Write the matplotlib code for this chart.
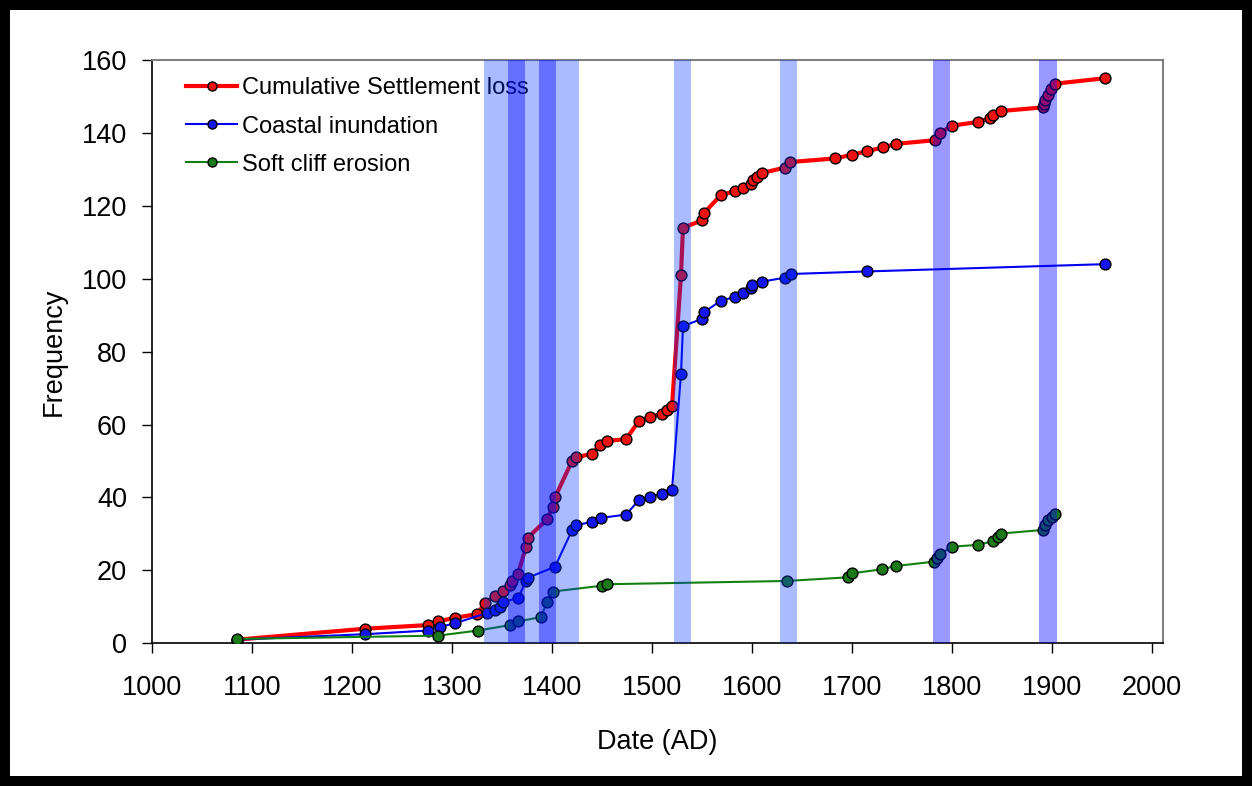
import matplotlib
matplotlib.use("Agg")
import matplotlib.pyplot as plt
from matplotlib.patches import Rectangle

plt.rcParams['font.family'] = ['Liberation Sans', 'DejaVu Sans']

# 1. Data
settle_year = [1085, 1213, 1276, 1286, 1303, 1325, 1333, 1343, 1351, 1358, 1360, 1366,
               1374, 1376, 1395, 1401, 1403, 1420, 1424, 1440, 1448, 1455, 1474, 1487,
               1498, 1510, 1515, 1520, 1529, 1531, 1550, 1552, 1569, 1583, 1591, 1599,
               1601, 1605, 1610, 1633, 1638, 1683, 1700, 1715, 1731, 1744, 1783, 1788,
               1800, 1826, 1838, 1841, 1849, 1891, 1892, 1893, 1896, 1899, 1903, 1953]
settle_freq = [1, 4, 5, 6, 7, 8, 11, 13, 14.4, 16, 17, 19,
               26.5, 29, 34, 37.5, 40, 50, 51, 52, 54.5, 55.5, 56, 61,
               62, 63, 64, 65, 101, 114, 116, 118, 123, 124, 125, 126,
               127, 128, 129, 130.5, 132, 133, 134, 135, 136, 137, 138, 140,
               142, 143, 144, 145, 146, 147, 148, 149, 150.5, 152, 153.5, 155]

coast_year = [1085, 1213, 1276, 1288, 1303, 1335, 1343, 1348, 1351, 1366, 1374, 1376,
              1403, 1420, 1424, 1440, 1449, 1474, 1487, 1498, 1510, 1520, 1529, 1531,
              1550, 1552, 1569, 1583, 1591, 1599, 1600, 1610, 1633, 1639, 1715, 1953]
coast_freq = [1, 2.5, 3.5, 4.5, 5.5, 8.3, 9.2, 10, 11.3, 12.4, 17, 18,
              21, 31, 32.4, 33.3, 34.4, 35.3, 39.3, 40.2, 41, 42, 74, 87,
              89, 90.8, 94, 95, 96.2, 97.4, 98.2, 99.2, 100.3, 101.3, 102, 104]

cliff_year = [1085, 1286, 1326, 1358, 1366, 1389, 1395, 1401, 1450, 1455, 1635, 1696,
              1700, 1730, 1744, 1782, 1785, 1788, 1800, 1826, 1841, 1846, 1849, 1891,
              1893, 1896, 1900, 1903]
cliff_freq = [1.2, 2.1, 3.5, 5, 6, 7.2, 11.3, 14.2, 15.8, 16.2, 17.1, 18.1,
              19.2, 20.3, 21.2, 22.4, 23.3, 24.5, 26.5, 27, 28, 29.1, 30.1, 31.1,
              32.4, 33.8, 34.7, 35.4]

# shaded periods (start, end)
light_periods = [(1332, 1427), (1522, 1539), (1628, 1645)]
strong_periods = [(1356, 1373), (1387, 1404), (1781, 1798), (1887, 1905)]

# 2. Figure: white with a thick black frame
fig = plt.figure(figsize=(12.52, 7.86), dpi=100, facecolor='white')
fig.patches.append(Rectangle((0, 0), 1, 1, transform=fig.transFigure, fill=False,
                             edgecolor='black', linewidth=14.4, zorder=10))
ax = fig.add_axes([152 / 1252, 1 - 643.3 / 786, 1011 / 1252, 583.3 / 786])
ax.set_facecolor('white')

ax.plot(settle_year, settle_freq, color='#ff0000', lw=3, marker='o', ms=7.8,
        mfc='#ee1111', mec='black', mew=1, label='Cumulative Settlement loss', zorder=3)
ax.plot(coast_year, coast_freq, color='#0000ee', lw=1.5, marker='o', ms=7.8,
        mfc='#1515ee', mec='black', mew=1, label='Coastal inundation', zorder=3)
ax.plot(cliff_year, cliff_freq, color='#118011', lw=1.5, marker='o', ms=7.8,
        mfc='#1a7a1a', mec='black', mew=1, label='Soft cliff erosion', zorder=3)

leg = ax.legend(loc='upper left', bbox_to_anchor=(0.034, 0.97), frameon=False,
                fontsize=17, handlelength=2.15, handletextpad=0.2,
                labelspacing=0.68, borderpad=0, borderaxespad=0)
for h in leg.legend_handles:
    h.set_markersize(6.5)

# bands drawn on top, tinting everything beneath
for s, e in light_periods:
    ax.axvspan(s, e, color=(0, 0.2, 1), alpha=0.333, lw=0, zorder=6)
for s, e in strong_periods:
    ax.axvspan(s, e, color=(0, 0, 1), alpha=0.4, lw=0, zorder=6)

# 3. Axes styling
ax.set_xlim(1000, 2011)
ax.set_ylim(0, 160)
ax.set_xticks(range(1000, 2001, 100))
ax.set_yticks(range(0, 161, 20))
ax.tick_params(axis='both', direction='out', length=7, width=1, labelsize=19.5,
               colors='black')
ax.tick_params(axis='x', pad=16)
ax.tick_params(axis='y', pad=11)
for side in ['left', 'bottom']:
    ax.spines[side].set_color('black')
    ax.spines[side].set_linewidth(1.2)
for side in ['top', 'right']:
    ax.spines[side].set_color('#808080')
    ax.spines[side].set_linewidth(1.5)

ax.set_xlabel('Date (AD)', fontsize=19.5, labelpad=20)
ax.set_ylabel('Frequency', fontsize=19.5, labelpad=11)

plt.savefig('out.png', dpi=100)
